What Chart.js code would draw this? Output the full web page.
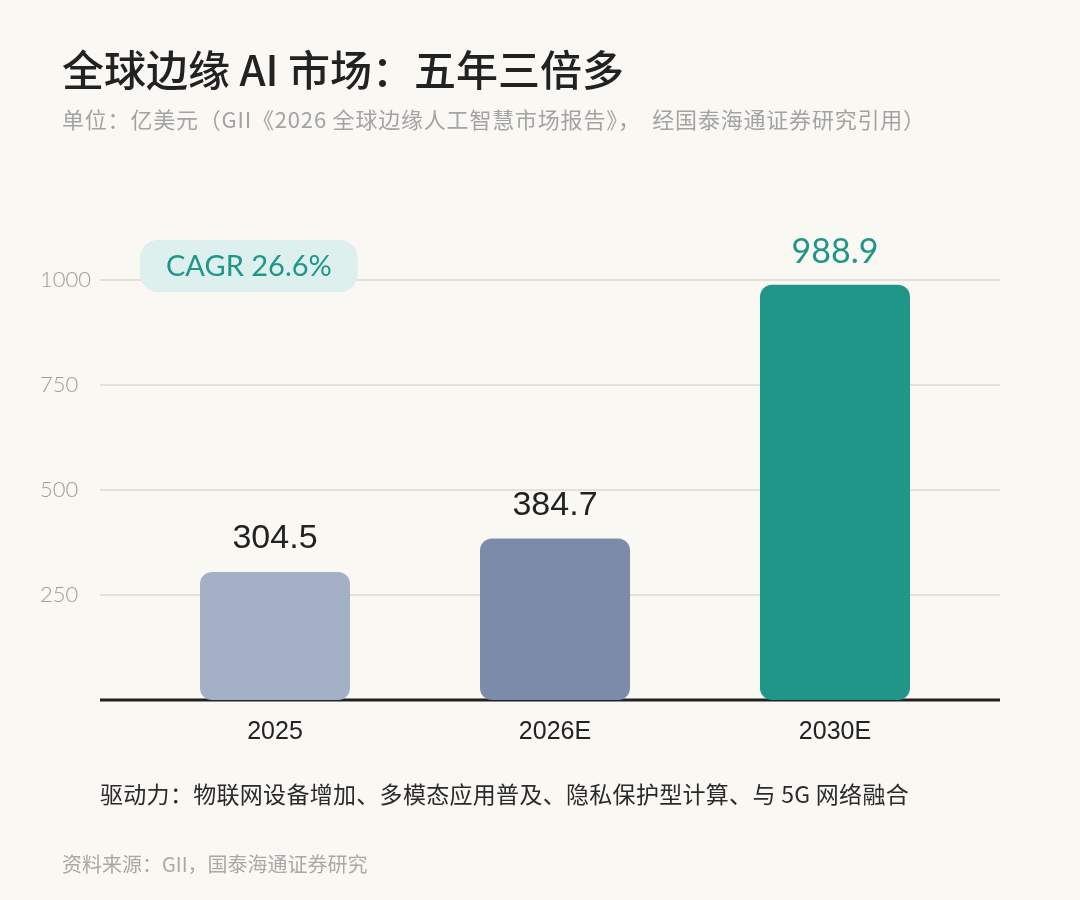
<!DOCTYPE html>
<html lang="zh-CN">
<head>
<meta charset="UTF-8" />
<title>全球边缘 AI 市场</title>
<script src="https://cdn.jsdelivr.net/npm/chart.js"></script>
<style>
body {
    margin: 0;
    width: 1080px;
    height: 900px;
    background: #faf8f3;
    font-family: "Noto Sans CJK SC", "Liberation Sans", sans-serif;
    position: relative;
    overflow: hidden;
}
#chartBox { position: absolute; left: 0; top: 0; width: 1080px; height: 900px; }
.title {
    position: absolute; left: 62px; top: 45px; margin: 0;
    font-size: 42px; line-height: 46px; font-weight: 500; color: #222;
}
.subtitle {
    position: absolute; left: 62px; top: 106px; white-space: nowrap;
    font-size: 22px; line-height: 24px; color: #a3a3a3; letter-spacing: 0.8px;
}
.drivers {
    position: absolute; left: 100px; top: 781px; white-space: nowrap;
    font-size: 23px; line-height: 25px; color: #2a2a2a; letter-spacing: 0.3px;
}
.source {
    position: absolute; left: 62px; top: 853px;
    font-size: 20px; line-height: 22px; color: #a8a8a8;
}
</style>
</head>
<body>
<div id="chartBox"><canvas id="edgeChart" width="1080" height="900"></canvas></div>
<h1 class="title">全球边缘 AI 市场：五年三倍多</h1>
<div class="subtitle">单位：亿美元（GII《2026 全球边缘人工智慧市场报告》，&nbsp;&nbsp;经国泰海通证券研究引用）</div>
<div class="drivers">驱动力：物联网设备增加、多模态应用普及、隐私保护型计算、与 5G 网络融合</div>
<div class="source">资料来源：GII，国泰海通证券研究</div>

<script>
// data
const years = ['2025', '2026E', '2030E'];
const marketSize = [304.5, 384.7, 988.9];
const yTicks = [250, 500, 750, 1000];
const cagrText = 'CAGR 26.6%';

const barColors = ['#a4b0c6', '#7b8ba9', '#1f9688'];
const valueColors = ['#222222', '#222222', '#1f9688'];

// grid lines and base line run a bit wider than the bar area
const GRID_LEFT = 35, GRID_RIGHT = 25;

const gridLines = {
    id: 'gridLines',
    beforeDatasetsDraw(chart) {
        const ctx = chart.ctx;
        const y = chart.scales.y;
        const x0 = chart.chartArea.left - GRID_LEFT;
        const x1 = chart.chartArea.right + GRID_RIGHT;
        ctx.save();
        ctx.strokeStyle = '#e6e1d5';
        ctx.lineWidth = 2;
        yTicks.forEach(v => {
            const py = Math.round(y.getPixelForValue(v));
            ctx.beginPath();
            ctx.moveTo(x0, py);
            ctx.lineTo(x1, py);
            ctx.stroke();
        });
        const base = y.getPixelForValue(0);
        ctx.strokeStyle = '#222222';
        ctx.lineWidth = 3;
        ctx.beginPath();
        ctx.moveTo(x0, base);
        ctx.lineTo(x1, base);
        ctx.stroke();
        ctx.restore();
    }
};

// value labels above bars
const valueLabels = {
    id: 'valueLabels',
    afterDatasetsDraw(chart) {
        const ctx = chart.ctx;
        const meta = chart.getDatasetMeta(0);
        ctx.save();
        ctx.textAlign = 'center';
        ctx.textBaseline = 'middle';
        meta.data.forEach((bar, i) => {
            ctx.fillStyle = valueColors[i];
            ctx.font = i === 2 ? '400 34px Lato, sans-serif' : '400 34px "Liberation Sans", sans-serif';
            ctx.fillText(marketSize[i].toFixed(1), bar.x, bar.y - 33);
        });
        ctx.restore();
    }
};

// CAGR pill
const cagrPill = {
    id: 'cagrPill',
    afterDatasetsDraw(chart) {
        const ctx = chart.ctx;
        const yTop = chart.scales.y.getPixelForValue(1000);
        ctx.save();
        ctx.font = '400 29px Lato, sans-serif';
        const w = ctx.measureText(cagrText).width + 52;
        const h = 52;
        const x = chart.chartArea.left + 5;
        const y = yTop - 40;
        ctx.fillStyle = '#ddf0ee';
        ctx.beginPath();
        ctx.roundRect(x, y, w, h, 18);
        ctx.fill();
        ctx.fillStyle = '#1f9688';
        ctx.textAlign = 'center';
        ctx.textBaseline = 'middle';
        ctx.fillText(cagrText, x + w / 2, y + h / 2 + 1);
        ctx.restore();
    }
};

new Chart(document.getElementById('edgeChart'), {
    type: 'bar',
    data: {
        labels: years,
        datasets: [{
            data: marketSize,
            backgroundColor: barColors,
            borderRadius: 12,
            borderSkipped: false,
            categoryPercentage: 1,
            barPercentage: 150 / 280
        }]
    },
    options: {
        responsive: false,
        animation: false,
        devicePixelRatio: 1,
        layout: { padding: { left: 40, right: 105, top: 280, bottom: 160 } },
        plugins: { legend: { display: false }, tooltip: { enabled: false } },
        scales: {
            x: {
                grid: { display: false },
                border: { display: false },
                ticks: { color: '#222222', padding: 9, font: { family: 'Liberation Sans', size: 25 } },
                afterFit(scale) { scale.height = 40; }
            },
            y: {
                min: 0,
                max: 1000,
                afterBuildTicks(scale) { scale.ticks = yTicks.map(v => ({ value: v })); },
                grid: { display: false, drawTicks: false },
                border: { display: false },
                ticks: {
                    color: '#9c9c9c', crossAlign: 'far', padding: 8,
                    font: { family: 'Lato', size: 22, weight: '300' },
                    callback: v => String(v)
                },
                afterFit(scale) { scale.width = 95; }
            }
        }
    },
    plugins: [gridLines, valueLabels, cagrPill]
});
</script>
</body>
</html>
